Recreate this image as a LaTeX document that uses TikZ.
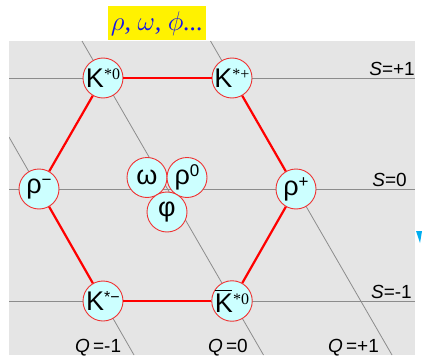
\documentclass[tikz,border=0pt]{standalone}
\usepackage{fontspec}
\setmainfont{Liberation Sans}
\newfontfamily\serfont{Liberation Serif}
\definecolor{panelgray}{RGB}{229,229,229}
\definecolor{gridgray}{RGB}{140,140,140}
\definecolor{ballfill}{RGB}{204,255,255}
\definecolor{ballred}{RGB}{240,50,50}
\definecolor{titleblue}{RGB}{20,20,235}
\newcommand{\kstar}[1]{K\raisebox{8pt}{\fontsize{16}{16}\serfont #1}}
\newcommand{\rhoch}[1]{ρ\raisebox{8pt}{\fontsize{17}{17}\selectfont #1}}
\begin{document}
\begin{tikzpicture}[x=1pt, y=-1pt,
	every node/.style={inner sep=0pt},
	meson/.style={circle, draw=ballred, line width=0.9pt, fill=ballfill, minimum size=40pt, font=\fontsize{27}{27}\selectfont},
	grid/.style={draw=gridgray, line width=0.8pt},
	hexedge/.style={draw=red, line width=2.2pt},
	axislabel/.style={font=\fontsize{19}{19}\selectfont}]
	\useasboundingbox (0,0) rectangle (423,361);
	\fill[panelgray] (9,41) rectangle (415,355);
	\node[fill=yellow, minimum width=98pt, minimum height=34pt] (title) at (157,23.5) {\color{titleblue}\scalebox{1.3}{\fontsize{20}{20}\selectfont\serfont\itshape $\rho$, $\omega$, $\phi$...}};
	% grid
	\begin{scope}
		\clip (9,41) rectangle (415,355);
		\draw[grid] (9,78) -- (415,78);
		\draw[grid] (9,189) -- (415,189);
		\draw[grid] (9,301) -- (415,301);
		\draw[grid] (9,137) -- (134,355);
		\draw[grid] (82,41) -- (263.5,355);
		\draw[grid] (210.5,41) -- (392,355);
	\end{scope}
	\node[axislabel, anchor=base east] (sp) at (415,75) {\textit{S}=+1};
	\node[axislabel, anchor=base east] (sz) at (407,186) {\textit{S}=0};
	\node[axislabel, anchor=base east] (sm) at (412,298) {\textit{S}=-1};
	\node[axislabel, anchor=base west] (qm) at (75,352) {\textit{Q}\,=-1};
	\node[axislabel, anchor=base west] (qz) at (208,352) {\textit{Q}\,=0};
	\node[axislabel, anchor=base west] (qp) at (328,352) {\textit{Q}\,=+1};
	% nonet
	\node[meson] (kz) at (103,78) {\kstar{*0}};
	\node[meson] (kp) at (232,78) {\kstar{*+}};
	\node[meson] (rm) at (39,189) {\rhoch{−}};
	\node[meson] (rp) at (296,189) {\rhoch{+}};
	\node[meson] (km) at (103,301) {K\raisebox{8pt}{\fontsize{16}{16}\selectfont *−}};
	\node[meson] (kbz) at (232,301) {\makebox[0pt][l]{\rule[21pt]{17pt}{1.2pt}}\kstar{*0}};
	\node[meson] (om) at (147,177.5) {ω};
	\node[meson] (rz) at (187,177.5) {\rhoch{0}};
	\node[meson] (ph) at (167,212) {φ};
	\draw[hexedge] (kz) -- (kp);
	\draw[hexedge] (kp) -- (rp);
	\draw[hexedge] (rp) -- (kbz);
	\draw[hexedge] (kbz) -- (km);
	\draw[hexedge] (km) -- (rm);
	\draw[hexedge] (rm) -- (kz);
	\fill[cyan] (416,231) -- (422,231) -- (420,243) -- cycle;
\end{tikzpicture}
\end{document}
